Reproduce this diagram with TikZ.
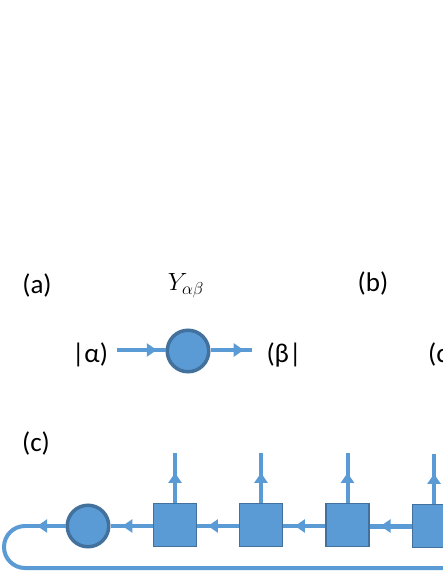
\documentclass[tikz,border=0pt]{standalone}
\usepackage{fontspec}
\setmainfont{Carlito}
\usetikzlibrary{arrows.meta,decorations.markings}
\definecolor{lineblue}{HTML}{5B9BD5}
\definecolor{darkblue}{HTML}{41719C}
\begin{document}
\begin{tikzpicture}[x=1pt,y=-1pt,
  lbl/.style={inner sep=0pt, font=\fontsize{27}{31}\selectfont},
  conn/.style={draw=lineblue, line width=4pt},
  marr/.style={postaction={decorate}, decoration={markings,
      mark=at position #1 with {\arrow{Triangle[length=10pt,width=13pt]}}}},
  bubble/.style={circle, fill=lineblue, draw=darkblue, line width=3.5pt,
      minimum size=41.5pt, inner sep=0pt},
  sq/.style={rectangle, fill=lineblue, draw=darkblue, line width=1.2pt,
      minimum size=43pt, inner sep=0pt}]
\useasboundingbox (0,0) rectangle (443,573);
\fill[white] (0,0) rectangle (443,573);
\clip (0,0) rectangle (443,573);
% panel labels
\node[lbl] (pa) at (37,285) {(a)};
\node[lbl] (pb) at (373,283) {(b)};
\node[lbl] (pc) at (36,443) {(c)};
\node[lbl, font=\fontsize{26}{30}\selectfont] (Y) at (186,286) {$Y_{\alpha\beta}$};
% panel (a)
\node[lbl] (ket) at (90,355) {|α)};
\node[lbl] (bra) at (284,355) {(β|};
\node[lbl, anchor=west] (pbk) at (428,355) {(α|};
\node[bubble] (ca) at (188,351) {};
\coordinate (ain) at (117,350);
\coordinate (aout) at (252,350);
\draw[conn, marr=0.82] (ain) -- (ca.west |- ain);
\draw[conn, marr=0.8] (ca.east |- aout) -- (aout);
% panel (c)
\node[bubble] (cc) at (88,526) {};
\node[sq] (s1) at (175,525) {};
\node[sq] (s2) at (261,525) {};
\node[sq] (s3) at (347.5,525) {};
\node[sq] (s4) at (434,526) {};
\foreach \s in {s1,s2,s3,s4}{
  \coordinate (\s t) at ([yshift=50pt]\s.north);
  \draw[conn, marr=0.6] (\s.north) -- (\s t);
}
\draw[conn, marr=0.72] (s1.west |- cc) -- (cc.east);
\draw[conn, marr=0.74] (s2.west |- cc) -- (s1.east |- cc);
\draw[conn, marr=0.72] (s3.west |- cc) -- (s2.east |- cc);
\draw[conn, line width=5pt, marr=0.74] (s4.west |- cc) -- (s3.east |- cc);
\coordinate (l1) at (25,526);
\coordinate (l2) at (25,568);
\coordinate (l3) at (460,568);
\draw[conn, marr=0.7] (cc.west) -- (l1);
\draw[conn] (l1) arc[start angle=270, end angle=90, radius=21] -- (l3);
\end{tikzpicture}
\end{document}
